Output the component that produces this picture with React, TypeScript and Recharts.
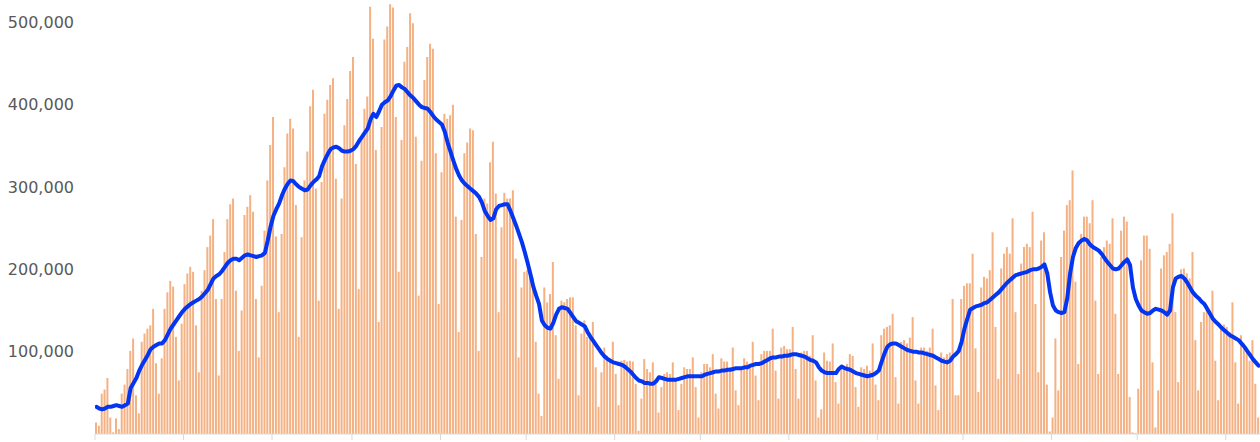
import React from "react";
import { ComposedChart, Bar, Line, XAxis, YAxis } from "recharts";

// daily values, in thousands, one per day starting 1 Dec
const DAILY_K = [
  14, 10, 49, 54, 68, 20, 2, 19, 6, 49,
  60, 79, 101, 116, 47, 25, 112, 122, 128, 132,
  152, 86, 49, 92, 152, 172, 186, 179, 118, 65,
  134, 182, 195, 203, 197, 132, 75, 174, 199, 227,
  241, 261, 164, 71, 164, 221, 261, 279, 286, 174,
  101, 150, 266, 276, 290, 270, 164, 93, 180, 247,
  308, 351, 385, 240, 148, 243, 324, 365, 383, 371,
  278, 118, 239, 308, 343, 398, 418, 298, 162, 306,
  389, 406, 424, 432, 310, 152, 286, 375, 407, 441,
  458, 328, 176, 360, 395, 410, 519, 480, 345, 136,
  373, 479, 495, 522, 518, 385, 197, 357, 452, 470,
  511, 499, 361, 168, 332, 430, 458, 474, 468, 341,
  158, 318, 389, 383, 387, 400, 264, 124, 260, 341,
  354, 371, 369, 243, 101, 215, 286, 280, 330, 355,
  292, 148, 251, 293, 286, 286, 296, 213, 93, 178,
  197, 199, 200, 190, 112, 49, 22, 178, 160, 170,
  209, 120, 67, 162, 160, 164, 166, 166, 132, 47,
  122, 138, 118, 122, 136, 81, 33, 75, 105, 95,
  88, 112, 73, 35, 89, 90, 88, 89, 88, 61,
  4, 43, 91, 79, 75, 87, 67, 26, 57, 73,
  75, 73, 87, 66, 29, 61, 81, 79, 79, 93,
  57, 20, 75, 85, 85, 81, 97, 49, 31, 92,
  88, 88, 81, 105, 53, 35, 81, 92, 88, 85,
  112, 71, 41, 97, 101, 101, 101, 128, 77, 43,
  105, 107, 103, 103, 130, 79, 43, 99, 101, 101,
  95, 120, 65, 20, 30, 99, 89, 88, 110, 63,
  37, 83, 81, 85, 97, 95, 57, 33, 81, 79,
  83, 77, 110, 60, 41, 120, 128, 130, 132, 146,
  69, 37, 112, 114, 110, 117, 142, 65, 37, 105,
  105, 101, 105, 128, 59, 29, 99, 93, 97, 99,
  164, 47, 47, 164, 180, 183, 183, 219, 104, 51,
  178, 191, 189, 199, 245, 130, 67, 201, 219, 227,
  219, 262, 148, 73, 207, 227, 231, 227, 270, 158,
  75, 235, 245, 60, 3, 20, 116, 53, 215, 247,
  278, 284, 320, 185, 85, 243, 264, 264, 256, 284,
  162, 73, 215, 227, 235, 231, 262, 146, 73, 247,
  264, 258, 45, 2, 1, 55, 211, 241, 241, 225,
  87, 8, 53, 201, 217, 221, 231, 268, 148, 63,
  200, 201, 195, 189, 221, 114, 53, 136, 148, 156,
  150, 174, 89, 41, 128, 133, 130, 124, 160, 87,
  37, 120, 110, 104, 89, 114, 61, 20,
];

// 7-day average as drawn, in thousands
const AVG_K = [
  33, 31, 30, 31, 33, 33, 34, 35, 34, 33,
  35, 37, 56, 62, 68, 77, 84, 90, 96, 103,
  106, 108, 110, 110, 114, 121, 128, 133, 138, 143,
  148, 152, 155, 158, 160, 162, 164, 167, 171, 175,
  182, 189, 192, 194, 198, 203, 208, 211, 213, 213,
  211, 214, 217, 218, 217, 216, 215, 216, 217, 220,
  235, 252, 265, 273, 280, 290, 298, 304, 308, 307,
  303, 300, 298, 296, 297, 302, 306, 309, 313, 325,
  333, 340, 346, 348, 349, 347, 344, 343, 343, 344,
  346, 350, 356, 361, 366, 371, 382, 389, 385, 392,
  400, 403, 405, 410, 417, 423, 424, 421, 419, 415,
  411, 408, 404, 400, 397, 396, 395, 391, 386, 382,
  379, 376, 367, 354, 343, 332, 322, 314, 308, 304,
  301, 298, 295, 292, 288, 281, 271, 265, 260, 262,
  273, 277, 278, 279, 279, 271, 262, 253, 243, 233,
  221, 208, 194, 179, 168, 158, 138, 132, 129, 128,
  135, 145, 152, 154, 153, 152, 147, 142, 137, 135,
  133, 131, 124, 118, 113, 108, 103, 98, 94, 91,
  89, 87, 86, 85, 84, 82, 79, 76, 72, 68,
  65, 64, 62, 62, 61, 61, 64, 69, 68, 67,
  66, 66, 66, 66, 67, 68, 69, 70, 70, 70,
  70, 70, 70, 72, 73, 74, 75, 76, 76, 77,
  77, 78, 78, 79, 80, 80, 80, 81, 81, 83,
  84, 85, 85, 86, 88, 90, 92, 93, 93, 94,
  94, 95, 95, 96, 97, 97, 96, 95, 94, 92,
  90, 89, 87, 81, 77, 75, 74, 74, 74, 74,
  79, 82, 80, 79, 78, 76, 74, 73, 72, 71,
  70, 71, 72, 74, 77, 88, 98, 106, 109, 110,
  110, 108, 106, 104, 102, 101, 100, 100, 99, 99,
  98, 97, 96, 95, 93, 91, 89, 88, 87, 89,
  94, 97, 101, 112, 128, 140, 151, 153, 155, 156,
  157, 159, 160, 163, 166, 169, 172, 176, 180, 184,
  187, 190, 193, 194, 195, 196, 197, 199, 200, 200,
  201, 203, 206, 195, 172, 156, 150, 148, 147, 148,
  165, 195, 215, 226, 232, 235, 237, 235, 230, 227,
  225, 223, 219, 214, 209, 205, 201, 200, 201, 205,
  209, 212, 205, 178, 164, 156, 150, 148, 146, 147,
  150, 152, 151, 150, 148, 145, 150, 178, 189, 191,
  192, 189, 184, 178, 172, 168, 165, 161, 158, 152,
  146, 140, 136, 133, 129, 126, 123, 120, 118, 116,
  114, 110, 106, 101, 96, 91, 87, 83,
];

// month lengths Dec..Dec, tick marks sit on month starts
const MONTH_DAYS = [31, 31, 28, 31, 30, 31, 30, 31, 31, 30, 31, 30, 31];
const Y_TICKS = [0, 100000, 200000, 300000, 400000, 500000];

const data = DAILY_K.map((v, i) => ({ day: i, daily: v * 1000, avg: AVG_K[i] * 1000 }));

const monthTicks = [-0.5];
MONTH_DAYS.forEach((d) => monthTicks.push(monthTicks[monthTicks.length - 1] + d));

export default function App() {
  return (
    <div style={{ position: "absolute", left: 0, top: 0, width: 1260, height: 442, overflow: "hidden", background: "#fff" }}>
      {/* the plot's upper band (up to 600,000) is cropped away above the page */}
      <div style={{ position: "absolute", left: 0, top: -60 }}>
        <ComposedChart width={1260} height={502} data={data} margin={{ top: 0, right: 0, bottom: 0, left: 0 }}>
          <XAxis
            dataKey="day"
            type="number"
            domain={[-0.5, DAILY_K.length - 0.5]}
            allowDataOverflow
            ticks={monthTicks}
            tickFormatter={() => ""}
            height={8}
            stroke="#d9d9d9"
            tickSize={6}
          />
          <YAxis
            domain={[0, 600000]}
            ticks={Y_TICKS}
            allowDataOverflow
            width={95}
            axisLine={false}
            tickLine={false}
            tickSize={0}
            tickMargin={21}
            tickFormatter={(v: number) => v.toLocaleString("en-US")}
            tick={{ fill: "#595959", fontSize: 16, fontFamily: "DejaVu Sans" }}
          />
          <Bar dataKey="daily" fill="#F4B183" barSize={2} isAnimationActive={false} />
          <Line
            dataKey="avg"
            type="linear"
            stroke="#0436f2"
            strokeWidth={4}
            dot={false}
            strokeLinejoin="round"
            strokeLinecap="round"
            isAnimationActive={false}
          />
        </ComposedChart>
      </div>
    </div>
  );
}
